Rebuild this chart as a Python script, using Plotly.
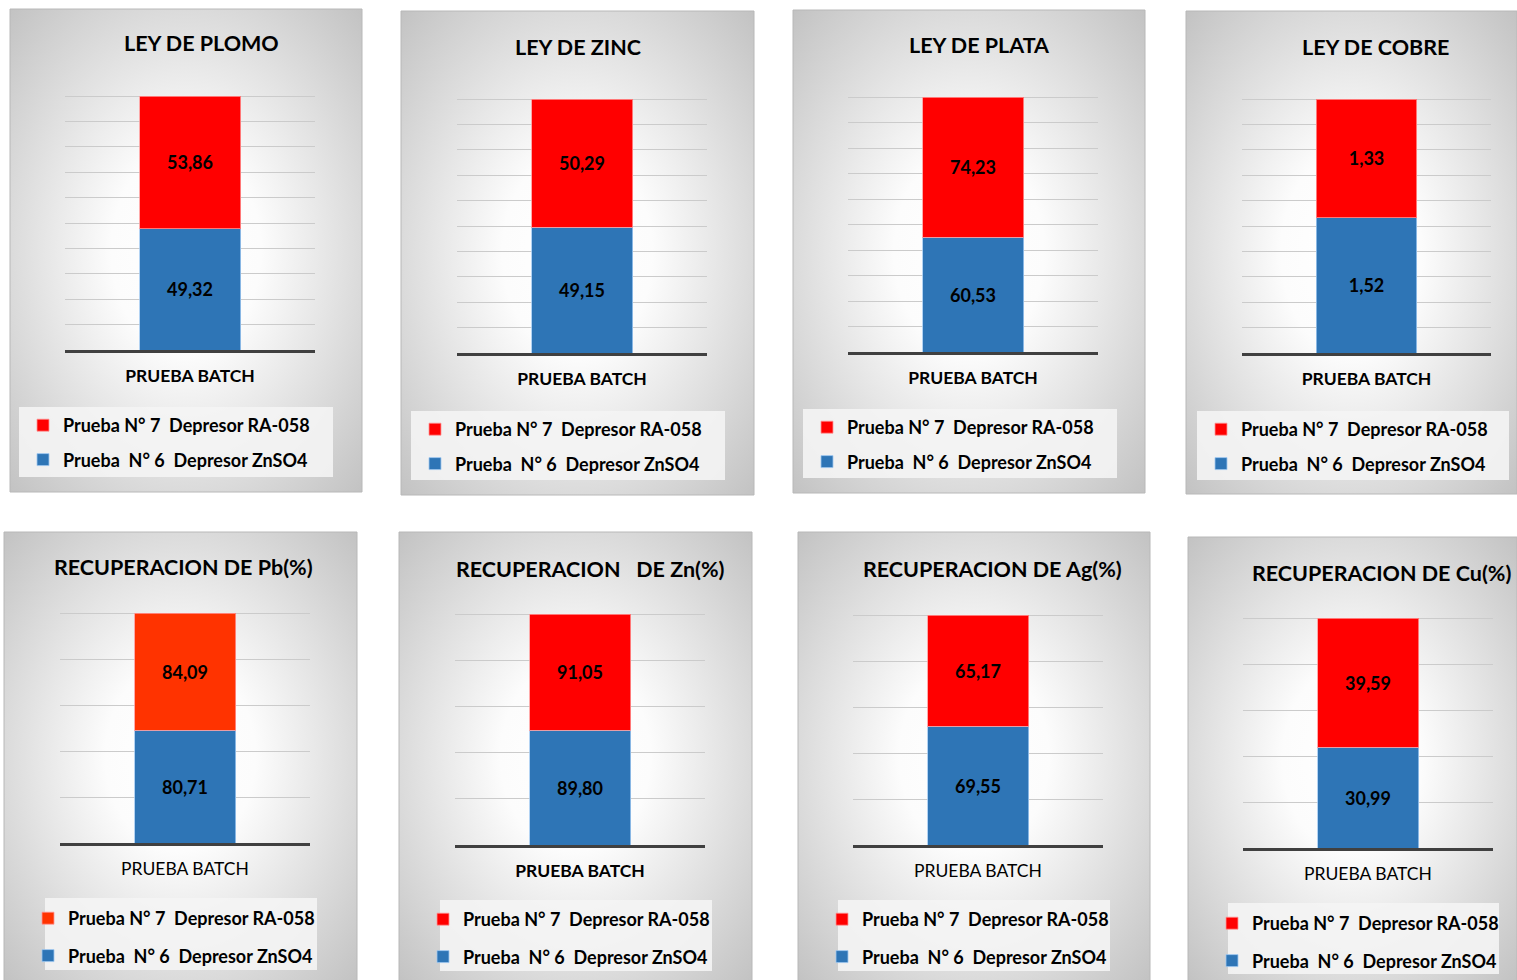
import base64
import plotly.graph_objects as go

W, H = 1517, 980

# ---------------- data ----------------
titles = ["LEY DE PLOMO", "LEY DE ZINC", "LEY DE PLATA", "LEY DE COBRE",
          "RECUPERACION DE Pb(%)", "RECUPERACION\u00a0\u00a0 DE Zn(%)",
          "RECUPERACION DE Ag(%)", "RECUPERACION DE Cu(%)"]
categories = ["PRUEBA BATCH"]
series_n6_name = "Prueba\u00a0 N° 6\u00a0 Depresor ZnSO4"
series_n7_name = "Prueba N° 7\u00a0 Depresor RA-058"
n6_values = [49.32, 49.15, 60.53, 1.52, 80.71, 89.80, 69.55, 30.99]
n7_values = [53.86, 50.29, 74.23, 1.33, 84.09, 91.05, 65.17, 39.59]
grid_divisions = [10, 10, 10, 10, 5, 5, 5, 5]

# ---------------- style / layout ----------------
FONT = "Lato"
BLUE = "#2E75B6"
n7_colors = ["#FF0000", "#FF0000", "#FF0000", "#FF0000",
             "#FF3300", "#FF0000", "#FF0000", "#FF0000"]
bold_xlabel = [True, True, True, True, False, True, False, False]

panel_boxes = [(10, 9, 362, 492), (401, 11, 754, 495), (793, 10, 1145, 493),
               (1186, 11, 1517, 494), (4, 532, 357, 981), (399, 532, 752, 981),
               (798, 532, 1150, 981), (1188, 537, 1517, 981)]
plot_areas = [(65, 315, 96, 350), (457, 707, 99, 353), (848, 1098, 97, 352),
              (1242, 1491, 99, 353), (60, 310, 613, 843), (455, 705, 614, 845),
              (853, 1103, 615, 845), (1243, 1493, 618, 848)]
title_pos = [(201, 43), (578, 47), (979, 45), (1375, 47),
             (183, 567), (590, 569), (992, 569), (1381, 573)]
legend_boxes = [(19, 407, 333, 477), (411, 411, 725, 480), (803, 409, 1117, 478),
                (1197, 411, 1509, 480), (45, 898, 317, 970), (440, 900, 712, 971),
                (838, 900, 1110, 971), (1228, 903, 1499, 974)]
legend_text = [(63, 424), (455, 428), (847, 426), (1241, 428),
               (68, 917), (463, 918), (862, 918), (1252, 922)]
legend_gap = [35, 35, 35, 35, 38, 38, 38, 38]
PAD = 3  # px of extra headroom so the top gridline is not clipped


def px(x):
    return x / W


def py(y):
    return 1 - y / H


svg = ('<svg xmlns="http://www.w3.org/2000/svg" width="100" height="100" '
       'viewBox="0 0 100 100" preserveAspectRatio="none"><defs>'
       '<radialGradient id="g" cx="50" cy="50" r="71" gradientUnits="userSpaceOnUse">'
       '<stop offset="0" stop-color="#ffffff"/>'
       '<stop offset="0.3" stop-color="#fcfcfc"/>'
       '<stop offset="1" stop-color="#c2c2c2"/>'
       '</radialGradient></defs>'
       '<rect x="0" y="0" width="100" height="100" fill="url(#g)"/></svg>')
svg_src = "data:image/svg+xml;base64," + base64.b64encode(svg.encode()).decode()

fig = go.Figure()
layout = dict(
    width=W, height=H, margin=dict(l=0, r=0, t=0, b=0),
    paper_bgcolor="white", plot_bgcolor="rgba(0,0,0,0)",
    barmode="stack", separators=",.", showlegend=True,
    font=dict(family=FONT, color="#000"),
)
images, shapes, annotations = [], [], []

for i in range(8):
    k = i + 1
    xa = "x" if k == 1 else f"x{k}"
    ya = "y" if k == 1 else f"y{k}"
    lg = "legend" if k == 1 else f"legend{k}"
    total = n6_values[i] + n7_values[i]

    fig.add_trace(go.Bar(
        x=categories, y=[n6_values[i]], name=series_n6_name,
        xaxis=xa, yaxis=ya, legend=lg, legendgroup=f"b{k}", legendrank=2,
        marker=dict(color=BLUE, line=dict(color="rgba(160,200,240,0.8)", width=1)),
        width=0.404, texttemplate="%{y:.2f}", textposition="inside",
        insidetextanchor="middle", textangle=0,
        textfont=dict(family=FONT, size=18, color="#000", weight="bold"),
        hoverinfo="name+y"))
    fig.add_trace(go.Bar(
        x=categories, y=[n7_values[i]], name=series_n7_name,
        xaxis=xa, yaxis=ya, legend=lg, legendgroup=f"a{k}", legendrank=1,
        marker=dict(color=n7_colors[i], line=dict(color="rgba(255,150,150,0.8)", width=1)),
        width=0.404, texttemplate="%{y:.2f}", textposition="inside",
        insidetextanchor="middle", textangle=0,
        textfont=dict(family=FONT, size=18, color="#000", weight="bold"),
        hoverinfo="name+y"))

    x0, x1, yt, yb = plot_areas[i]
    axname = "xaxis" if k == 1 else f"xaxis{k}"
    ayname = "yaxis" if k == 1 else f"yaxis{k}"
    h = yb - yt
    layout[axname] = dict(
        domain=[px(x0), px(x1)], anchor=ya, range=[-0.5, 0.5],
        showline=True, linecolor="#404040", linewidth=3,
        showgrid=False, ticks="outside", ticklen=8, tickcolor="rgba(0,0,0,0)",
        tickfont=dict(family=FONT, size=17.5, color="#000",
                      weight="bold" if bold_xlabel[i] else "normal"),
        fixedrange=True)
    layout[ayname] = dict(
        domain=[py(yb), py(yt - PAD)], anchor=xa, range=[0, total * (h + PAD) / h],
        tickmode="linear", tick0=0, dtick=total / grid_divisions[i],
        showticklabels=False, showgrid=True, gridcolor="#cbcbcb", gridwidth=1,
        zeroline=False, showline=False, fixedrange=True)

    bx0, by0, bx1, by1 = panel_boxes[i]
    images.append(dict(source=svg_src, xref="paper", yref="paper",
                       x=px(bx0), y=py(by0), sizex=(bx1 - bx0) / W,
                       sizey=(by1 - by0) / H, sizing="stretch",
                       xanchor="left", yanchor="top", layer="below"))
    shapes.append(dict(type="rect", xref="paper", yref="paper",
                       x0=px(bx0), x1=px(bx1), y0=py(by1), y1=py(by0),
                       line=dict(color="#b8b8b8", width=1), layer="below"))
    lx0, ly0, lx1, ly1 = legend_boxes[i]
    shapes.append(dict(type="rect", xref="paper", yref="paper",
                       x0=px(lx0), x1=px(lx1), y0=py(ly1), y1=py(ly0),
                       fillcolor="rgba(244,244,244,0.9)", line=dict(width=0),
                       layer="below"))

    tx, ty = title_pos[i]
    annotations.append(dict(text=titles[i], xref="paper", yref="paper",
                            x=px(tx), y=py(ty), xanchor="center", yanchor="middle",
                            showarrow=False,
                            font=dict(family=FONT, size=21.5, color="#000", weight="bold")))

    ltx, lty = legend_text[i]
    layout[lg] = dict(
        x=px(ltx - 40), y=py(lty - 17), xanchor="left", yanchor="top",
        bgcolor="rgba(0,0,0,0)", borderwidth=0,
        traceorder="grouped", tracegroupgap=legend_gap[i] - 27,
        font=dict(family=FONT, size=18, color="#000", weight="bold"),
        itemclick=False, itemdoubleclick=False)

layout["images"] = images
layout["shapes"] = shapes
layout["annotations"] = annotations
fig.update_layout(**layout)
fig.write_html("out.html")
